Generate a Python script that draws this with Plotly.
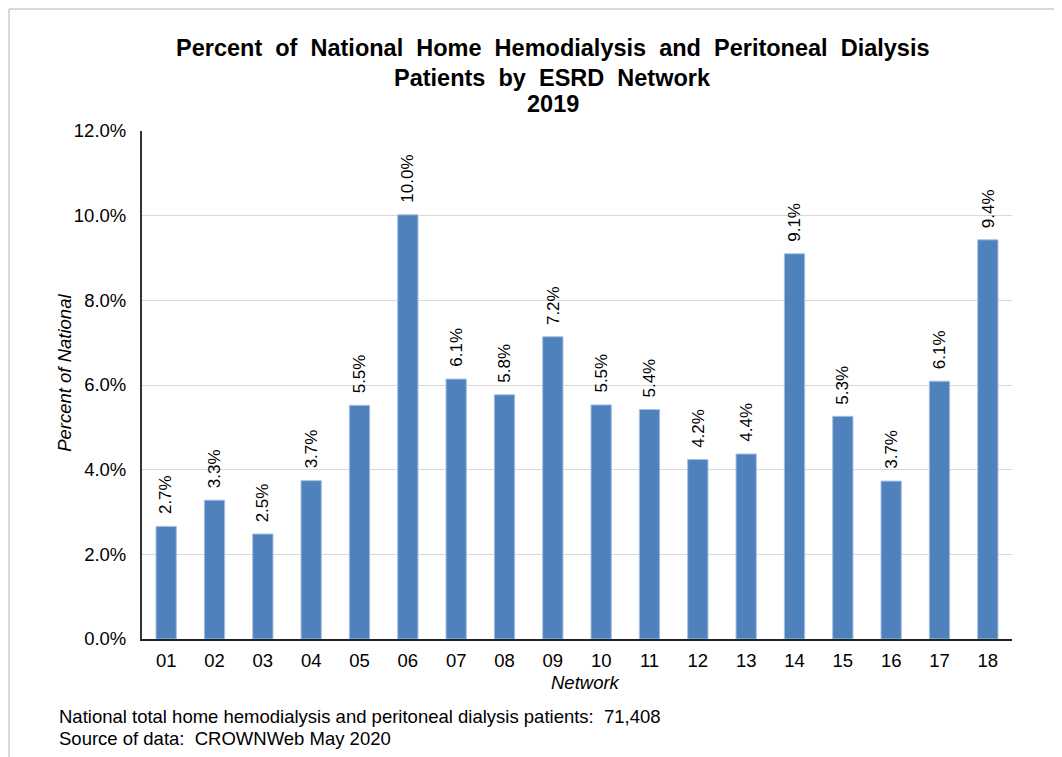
import plotly.graph_objects as go

networks = ["01", "02", "03", "04", "05", "06", "07", "08", "09",
            "10", "11", "12", "13", "14", "15", "16", "17", "18"]
pct_values = [2.66, 3.28, 2.48, 3.74, 5.52, 10.02, 6.14, 5.77, 7.14,
              5.53, 5.42, 4.24, 4.37, 9.10, 5.26, 3.73, 6.09, 9.43]
pct_labels = ["2.7%", "3.3%", "2.5%", "3.7%", "5.5%", "10.0%", "6.1%", "5.8%", "7.2%",
              "5.5%", "5.4%", "4.2%", "4.4%", "9.1%", "5.3%", "3.7%", "6.1%", "9.4%"]
y_ticks = [0, 2, 4, 6, 8, 10, 12]
y_tick_text = ["0.0%", "2.0%", "4.0%", "6.0%", "8.0%", "10.0%", "12.0%"]
title_lines = ["Percent of National Home Hemodialysis and Peritoneal Dialysis",
               "Patients by ESRD Network",
               "2019"]
footnotes = ["National total home hemodialysis and peritoneal dialysis patients:  71,408",
             "Source of data:  CROWNWeb May 2020"]

FONT = "Liberation Sans, Arial, sans-serif"
SP = "&nbsp; "

fig = go.Figure()
fig.add_trace(go.Bar(
    x=networks, y=pct_values,
    marker=dict(color="#4F81BD", line=dict(color="#A7C0E3", width=1)),
    hoverinfo="x+y"
))

# rotated data labels above each bar (x given as category index)
for i, (val, lab) in enumerate(zip(pct_values, pct_labels)):
    fig.add_annotation(x=i, y=val, text=lab, textangle=-90, showarrow=False,
                       xanchor="center", yanchor="bottom", yshift=10,
                       font=dict(size=17, family=FONT, color="black"))

fig.update_layout(
    width=1062, height=757,
    margin=dict(l=134, r=58, t=123, b=126),
    paper_bgcolor="white", plot_bgcolor="white",
    font=dict(family=FONT, size=18.5, color="black"),
    bargap=0.58,
    showlegend=False,
    xaxis=dict(
        type="category",
        showline=True, linecolor="#222222", linewidth=2,
        ticks="", tickfont=dict(size=18.5), ticklabelstandoff=4,
    ),
    yaxis=dict(
        range=[0, 12], tickvals=y_ticks, ticktext=y_tick_text,
        showline=True, linecolor="#333333", linewidth=2,
        showgrid=True, gridcolor="#D9D9D9", gridwidth=1,
        ticks="", tickfont=dict(size=18.5), ticklabelstandoff=10,
        zeroline=False,
    ),
)

# title, one annotation per line
for line, ypos in zip(title_lines, [1.163, 1.104, 1.053]):
    fig.add_annotation(text="<b>" + line.replace(" ", SP) + "</b>",
                       xref="paper", yref="paper", x=0.4724, y=ypos,
                       xanchor="center", yanchor="middle", showarrow=False,
                       font=dict(size=23.5, family=FONT, color="black"))

# axis titles
fig.add_annotation(text="<i>Percent of National</i>", textangle=-90,
                   xref="paper", yref="paper", x=-0.0885, y=0.524,
                   xanchor="center", yanchor="middle", showarrow=False,
                   font=dict(size=18.5, family=FONT))
fig.add_annotation(text="<i>Network</i>",
                   xref="paper", yref="paper", x=0.510, y=-0.0866,
                   xanchor="center", yanchor="middle", showarrow=False,
                   font=dict(size=18.5, family=FONT))

# outer frame (left and top edges visible)
fig.add_shape(type="line", xref="paper", yref="paper",
              x0=-0.1529, x1=1.2, y0=1.240, y1=1.240,
              line=dict(color="#D9D9D9", width=2))
fig.add_shape(type="line", xref="paper", yref="paper",
              x0=-0.1529, x1=-0.1529, y0=1.240, y1=-0.5,
              line=dict(color="#D9D9D9", width=2))

for note, ypos in zip(footnotes, [-0.1535, -0.1949]):
    fig.add_annotation(text=note.replace("  ", "&nbsp; "),
                       xref="paper", yref="paper", x=-0.0977, y=ypos,
                       xanchor="left", yanchor="middle", showarrow=False,
                       font=dict(size=18.5, family=FONT, color="black"))

fig.write_html("out.html")
